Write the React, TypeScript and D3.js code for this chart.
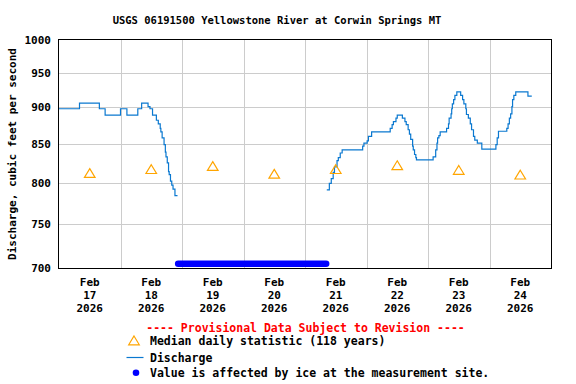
import React from "react";
import * as d3 from "d3";

const TITLE = "USGS 06191500 Yellowstone River at Corwin Springs MT";
const Y_TITLE = "Discharge, cubic feet per second";
const Y_TICKS = [700, 750, 800, 850, 900, 950, 1000];
const DAY_LABELS = ["17", "18", "19", "20", "21", "22", "23", "24"];
const MONTH_LABEL = "Feb";
const YEAR_LABEL = "2026";

// Discharge, part before ice (time, cfs)
const dischargeA: [string, number][] = [
  ["2026-02-17T00:00", 898], ["2026-02-17T08:00", 906], ["2026-02-17T15:45", 898],
  ["2026-02-17T18:00", 889], ["2026-02-18T00:00", 898], ["2026-02-18T02:30", 889],
  ["2026-02-18T06:45", 898], ["2026-02-18T08:15", 906], ["2026-02-18T10:45", 901],
  ["2026-02-18T11:30", 898], ["2026-02-18T12:30", 889], ["2026-02-18T14:00", 882],
  ["2026-02-18T14:45", 877], ["2026-02-18T15:30", 871], ["2026-02-18T15:45", 866],
  ["2026-02-18T16:15", 858], ["2026-02-18T17:00", 849], ["2026-02-18T17:30", 839],
  ["2026-02-18T17:45", 833], ["2026-02-18T18:15", 825], ["2026-02-18T18:45", 814],
  ["2026-02-18T19:00", 810], ["2026-02-18T19:30", 802], ["2026-02-18T20:00", 797],
  ["2026-02-18T20:30", 792], ["2026-02-18T21:15", 784], ["2026-02-18T22:15", 784],
];

// Discharge, part after ice
const dischargeB: [string, number][] = [
  ["2026-02-21T08:30", 791], ["2026-02-21T09:30", 799], ["2026-02-21T10:15", 805],
  ["2026-02-21T11:00", 813], ["2026-02-21T11:30", 820], ["2026-02-21T12:30", 828],
  ["2026-02-21T13:00", 832], ["2026-02-21T13:45", 838], ["2026-02-21T14:30", 842],
  ["2026-02-21T22:30", 847], ["2026-02-21T23:00", 851], ["2026-02-22T00:15", 854],
  ["2026-02-22T00:45", 860], ["2026-02-22T02:00", 866], ["2026-02-22T09:15", 871],
  ["2026-02-22T10:00", 876], ["2026-02-22T10:30", 880], ["2026-02-22T11:30", 885],
  ["2026-02-22T12:00", 889], ["2026-02-22T14:00", 885], ["2026-02-22T15:00", 880],
  ["2026-02-22T15:30", 876], ["2026-02-22T16:15", 869], ["2026-02-22T16:45", 863],
  ["2026-02-22T17:15", 856], ["2026-02-22T18:00", 847], ["2026-02-22T18:15", 842],
  ["2026-02-22T18:45", 836], ["2026-02-22T19:15", 832], ["2026-02-22T19:30", 829],
  ["2026-02-23T02:00", 833], ["2026-02-23T03:00", 842], ["2026-02-23T03:30", 851],
  ["2026-02-23T03:45", 858], ["2026-02-23T04:15", 861], ["2026-02-23T04:45", 866],
  ["2026-02-23T07:15", 871], ["2026-02-23T08:00", 877], ["2026-02-23T08:15", 885],
  ["2026-02-23T09:00", 891], ["2026-02-23T09:15", 898], ["2026-02-23T09:30", 905],
  ["2026-02-23T10:00", 911], ["2026-02-23T10:30", 917], ["2026-02-23T11:15", 922],
  ["2026-02-23T12:45", 917], ["2026-02-23T13:30", 911], ["2026-02-23T14:00", 905],
  ["2026-02-23T14:45", 898], ["2026-02-23T15:00", 890], ["2026-02-23T15:45", 885],
  ["2026-02-23T16:30", 877], ["2026-02-23T17:00", 869], ["2026-02-23T17:45", 860],
  ["2026-02-23T18:15", 855], ["2026-02-23T19:15", 851], ["2026-02-23T21:00", 843],
  ["2026-02-24T02:30", 849], ["2026-02-24T03:00", 858], ["2026-02-24T03:30", 867],
  ["2026-02-24T06:45", 871], ["2026-02-24T07:15", 877], ["2026-02-24T07:45", 885],
  ["2026-02-24T08:15", 891], ["2026-02-24T08:45", 901], ["2026-02-24T09:00", 911],
  ["2026-02-24T09:30", 917], ["2026-02-24T10:15", 922], ["2026-02-24T15:00", 916],
  ["2026-02-24T16:30", 916],
];

// Median daily statistic (plotted at noon)
const medianDates = ["2026-02-17", "2026-02-18", "2026-02-19", "2026-02-20", "2026-02-21", "2026-02-22", "2026-02-23", "2026-02-24"];
const medianValues = [812, 817, 821, 811, 817, 822, 816, 810];

// Ice-affected period
const iceStart = "2026-02-18T22:30";
const iceEnd = "2026-02-21T08:15";
const iceValue = 704.6;

const LEGEND = [
  "Median daily statistic (118 years)",
  "Discharge",
  "Value is affected by ice at the measurement site.",
];
const PROVISIONAL = "---- Provisional Data Subject to Revision ----";

const FONT = "'DejaVu Sans Mono', 'Liberation Mono', monospace";
const LINE = "#0a78d0";

const parse = (s: string) => new Date(s);

export default function App() {
  const left = 59, right = 551, top = 40, bottom = 268;
  const x = d3.scaleTime().domain([new Date("2026-02-17T00:00"), new Date("2026-02-25T00:00")]).range([left, right]);
  const y = d3.scaleLog().domain([700, 1000]).range([bottom, top]);
  const line = d3.line<[string, number]>().x((d) => x(parse(d[0]))).y((d) => y(d[1])).curve(d3.curveStepAfter);
  const dayStarts = d3.timeDay.range(new Date("2026-02-18T00:00"), new Date("2026-02-25T00:00"));
  const noon = (ds: string) => new Date(ds + "T12:00");
  const tri = (cx: number, cy: number) => `M${cx},${cy - 4.5}L${cx + 5.3},${cy + 4.3}L${cx - 5.3},${cy + 4.3}Z`;

  return (
    <svg width={576} height={384} style={{ position: "absolute", left: 0, top: 0, background: "#fff" }} fontFamily={FONT} fontWeight="bold">
      <text x={277} y={24} fontSize={10.5} textAnchor="middle" fill="#000">{TITLE}</text>
      {/* grid */}
      {Y_TICKS.filter((v) => v > 700 && v < 1000).map((v) => (
        <line key={v} x1={left} x2={right} y1={Math.round(y(v)) + 0.5} y2={Math.round(y(v)) + 0.5} stroke="#cccccc" />
      ))}
      {dayStarts.map((d, i) => (
        <line key={i} x1={Math.round(x(d)) + 0.5} x2={Math.round(x(d)) + 0.5} y1={top} y2={bottom} stroke="#cccccc" />
      ))}
      {/* y labels */}
      {Y_TICKS.map((v) => (
        <text key={v} x={51} y={y(v) + 4} fontSize={11} textAnchor="end" fill="#000">{v}</text>
      ))}
      <text transform={`translate(16,154) rotate(-90)`} fontSize={11} textAnchor="middle" fill="#000">{Y_TITLE}</text>
      {/* x labels */}
      {DAY_LABELS.map((lab, i) => {
        const cx = x(noon(medianDates[i]));
        return (
          <g key={lab}>
            <text x={cx} y={286} fontSize={11} textAnchor="middle">{MONTH_LABEL}</text>
            <text x={cx} y={299} fontSize={11} textAnchor="middle">{lab}</text>
            <text x={cx} y={312} fontSize={11} textAnchor="middle">{YEAR_LABEL}</text>
          </g>
        );
      })}
      {/* ice */}
      <line x1={x(parse(iceStart))} x2={x(parse(iceEnd))} y1={y(iceValue)} y2={y(iceValue)} stroke="#0000ff" strokeWidth={6.5} strokeLinecap="round" />
      {/* discharge */}
      <path d={line(dischargeA) || ""} fill="none" stroke={LINE} strokeWidth={1.2} />
      <path d={line(dischargeB) || ""} fill="none" stroke={LINE} strokeWidth={1.2} />
      {/* medians */}
      {medianDates.map((ds, i) => (
        <path key={ds} d={tri(x(noon(ds)), y(medianValues[i]))} fill="none" stroke="#ffa500" strokeWidth={1.2} />
      ))}
      {/* frame */}
      <rect x={left - 0.5} y={top - 0.5} width={right - left + 1} height={bottom - top + 1} fill="none" stroke="#000" strokeWidth={1} />
      {/* legend */}
      <text x={305.5} y={331.5} fontSize={11.5} textAnchor="middle" fill="#ff0000">{PROVISIONAL}</text>
      <path d={tri(134, 340.5)} fill="none" stroke="#ffa500" strokeWidth={1.2} />
      <text x={150} y={345} fontSize={11.5} fill="#000">{LEGEND[0]}</text>
      <line x1={126.5} x2={143.5} y1={357.5} y2={357.5} stroke={LINE} strokeWidth={1.2} />
      <text x={150} y={361.5} fontSize={11.5} fill="#000">{LEGEND[1]}</text>
      <circle cx={136} cy={372.7} r={3.3} fill="#0000ff" />
      <text x={150} y={377} fontSize={11.5} fill="#000">{LEGEND[2]}</text>
    </svg>
  );
}
